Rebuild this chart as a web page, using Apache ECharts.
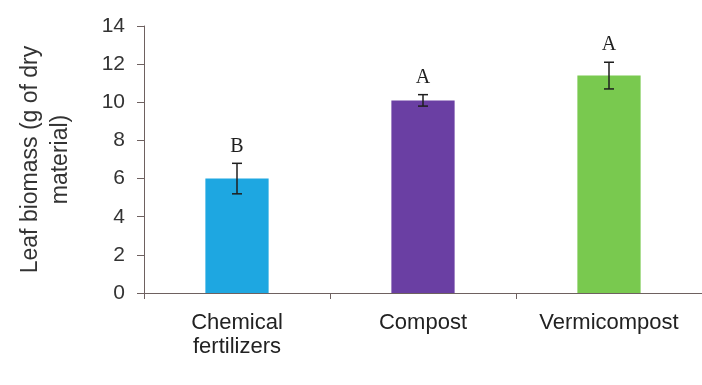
<!DOCTYPE html>
<html>
<head>
<meta charset="utf-8">
<script src="https://cdn.jsdelivr.net/npm/echarts@6/dist/echarts.min.js"></script>
<style>
  html, body { margin: 0; padding: 0; background: #ffffff; }
  #chart { width: 702px; height: 385px; }
</style>
</head>
<body>
<div id="chart"></div>
<script>
// Leaf biomass per fertilizer treatment, mean ± error, with significance letters
const categories = ['Chemical\nfertilizers', 'Compost', 'Vermicompost'];
const means = [6.0, 10.1, 11.4];
const errors = [0.8, 0.3, 0.7];
const letters = ['B', 'A', 'A'];
const barColors = ['#1ea7e1', '#6a3fa3', '#79c94f'];
const yTicks = { min: 0, max: 14, interval: 2 };

const axisColor = '#6e6160';

const chart = echarts.init(document.getElementById('chart'), null, { renderer: 'canvas' });

chart.setOption({
  animation: false,
  backgroundColor: '#ffffff',
  grid: { left: 144, right: -2, top: 26, bottom: 92 },
  xAxis: {
    type: 'category',
    data: categories,
    axisLine: { lineStyle: { color: axisColor, width: 1 } },
    axisTick: { show: true, length: 6, lineStyle: { color: axisColor } },
    axisLabel: {
      color: '#222222',
      fontFamily: 'Liberation Sans',
      fontSize: 22,
      lineHeight: 24,
      margin: 18
    }
  },
  yAxis: {
    type: 'value',
    min: yTicks.min,
    max: yTicks.max,
    interval: yTicks.interval,
    name: 'Leaf biomass (g of dry\nmaterial)',
    nameLocation: 'middle',
    nameRotate: 90,
    nameGap: 68,
    nameTextStyle: {
      color: '#333333',
      fontFamily: 'Liberation Sans',
      fontSize: 23,
      lineHeight: 30
    },
    axisLine: { show: true, lineStyle: { color: axisColor, width: 1 } },
    axisTick: { show: true, length: 7, lineStyle: { color: axisColor } },
    splitLine: { show: false },
    axisLabel: {
      color: '#333333',
      fontFamily: 'Liberation Sans',
      fontSize: 21,
      margin: 19
    }
  },
  series: [
    {
      type: 'bar',
      barWidth: '34%',
      data: means.map((v, i) => ({ value: v, itemStyle: { color: barColors[i] } }))
    },
    {
      type: 'custom',
      z: 5,
      data: means.map((v, i) => [i, v, errors[i]]),
      renderItem: function (params, api) {
        const idx = api.value(0);
        const m = api.value(1);
        const e = api.value(2);
        const top = api.coord([idx, m + e]);
        const bot = api.coord([idx, m - e]);
        const cap = 5;
        const style = { stroke: '#1e1e1e', lineWidth: 1.5 };
        return {
          type: 'group',
          children: [
            { type: 'line', shape: { x1: top[0], y1: top[1], x2: bot[0], y2: bot[1] }, style: style },
            { type: 'line', shape: { x1: top[0] - cap, y1: top[1], x2: top[0] + cap, y2: top[1] }, style: style },
            { type: 'line', shape: { x1: bot[0] - cap, y1: bot[1], x2: bot[0] + cap, y2: bot[1] }, style: style },
            {
              type: 'text',
              x: top[0],
              y: top[1] - 7,
              style: {
                text: letters[params.dataIndex],
                fill: '#1e1e1e',
                font: '20px "Liberation Serif"',
                textAlign: 'center',
                textVerticalAlign: 'bottom'
              }
            }
          ]
        };
      }
    }
  ]
});
</script>
</body>
</html>
